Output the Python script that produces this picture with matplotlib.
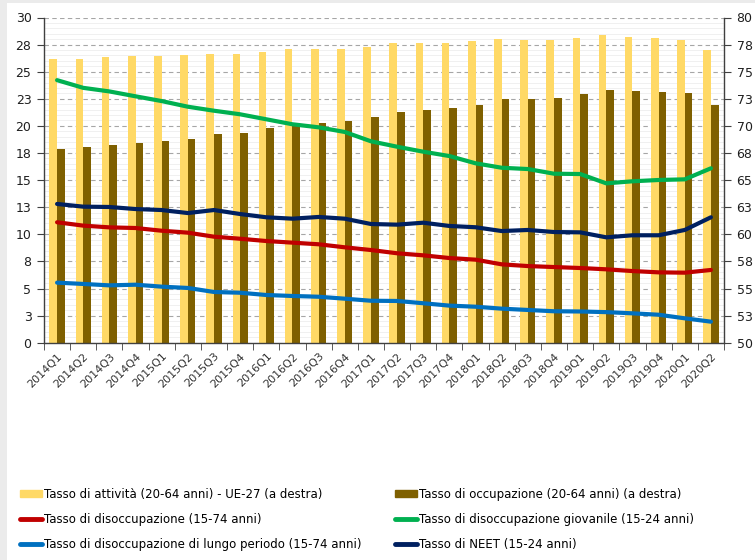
import numpy as np
import matplotlib
matplotlib.use("Agg")
import matplotlib.pyplot as plt
import matplotlib.ticker as mticker
from matplotlib.patches import Rectangle, Patch
from matplotlib.lines import Line2D

QUARTERS = [f"{y}Q{q}" for y in range(2014, 2021) for q in range(1, 5)][:26]

# right axis (bars)
ATTIVITA = [76.17, 76.17, 76.38, 76.48, 76.48, 76.54, 76.66, 76.66, 76.85, 77.09,
            77.09, 77.09, 77.31, 77.62, 77.62, 77.62, 77.80, 77.99, 77.92, 77.92,
            78.08, 78.36, 78.17, 78.08, 77.92, 77.00]
OCCUPAZIONE = [67.90, 68.08, 68.27, 68.45, 68.63, 68.82, 69.28, 69.37, 69.78, 69.99,
               70.24, 70.42, 70.79, 71.28, 71.46, 71.65, 71.93, 72.45, 72.51, 72.60,
               72.91, 73.28, 73.19, 73.12, 73.00, 71.93]

# left axis (lines)
DISOCC = [11.11, 10.80, 10.64, 10.58, 10.33, 10.15, 9.78, 9.59, 9.38, 9.23,
          9.08, 8.80, 8.55, 8.25, 8.06, 7.81, 7.66, 7.23, 7.07, 6.98,
          6.89, 6.77, 6.61, 6.49, 6.46, 6.71]
GIOVANILE = [24.22, 23.51, 23.18, 22.73, 22.29, 21.77, 21.40, 21.07, 20.61, 20.15,
             19.87, 19.44, 18.58, 18.08, 17.62, 17.22, 16.55, 16.14, 16.02, 15.59,
             15.56, 14.70, 14.89, 15.01, 15.07, 16.09]
LUNGO = [5.54, 5.42, 5.29, 5.35, 5.17, 5.05, 4.68, 4.61, 4.40, 4.31,
         4.24, 4.06, 3.87, 3.85, 3.64, 3.42, 3.32, 3.14, 3.02, 2.90,
         2.88, 2.82, 2.71, 2.58, 2.25, 1.94]
NEET = [12.80, 12.55, 12.52, 12.33, 12.24, 11.96, 12.24, 11.87, 11.57, 11.44,
        11.60, 11.44, 10.95, 10.89, 11.07, 10.77, 10.65, 10.30, 10.40, 10.21,
        10.18, 9.72, 9.91, 9.91, 10.40, 11.57]

LABELS = [
    "Tasso di attività (20-64 anni) - UE-27 (a destra)",
    "Tasso di occupazione (20-64 anni) (a destra)",
    "Tasso di disoccupazione (15-74 anni)",
    "Tasso di disoccupazione giovanile (15-24 anni)",
    "Tasso di disoccupazione di lungo periodo (15-74 anni)",
    "Tasso di NEET (15-24 anni)",
]

YELLOW, BROWN = "#FFD966", "#7F6000"
RED, GREEN, BLUE, NAVY = "#C00000", "#00B050", "#0070C0", "#002060"
FONT = ["Liberation Sans Narrow", "DejaVu Sans"]
plt.rcParams["font.family"] = FONT

W, H = 755, 560
fig = plt.figure(figsize=(W / 100, H / 100), dpi=100)
fig.patch.set_facecolor("#EBEBEB")
fig.add_artist(Rectangle((7 / W, 0), 1, 1 - 3 / H, transform=fig.transFigure,
                         facecolor="white", edgecolor="none", zorder=-5))

left, right, top, bottom = 44 / W, 724 / W, 17.5 / H, 342.7 / H
ax = fig.add_axes([left, 1 - bottom, right - left, bottom - top])
ax2 = ax.twinx()
ax.set_zorder(ax2.get_zorder() + 1)
ax.patch.set_visible(False)

x = np.arange(len(QUARTERS))
bw = 0.29
ax2.bar(x - bw / 2, ATTIVITA, width=bw, color=YELLOW, zorder=2)
ax2.bar(x + bw / 2, OCCUPAZIONE, width=bw, color=BROWN, zorder=2)
ax2.set_ylim(50, 80)

for vals, c in [(GIOVANILE, GREEN), (NEET, NAVY), (DISOCC, RED), (LUNGO, BLUE)]:
    ax.plot(x, vals, color=c, lw=3.0, solid_capstyle="round", solid_joinstyle="round")
ax.set_ylim(0, 30)
ax.set_xlim(-0.5, len(QUARTERS) - 0.5)

fmt = mticker.FuncFormatter(lambda v, p: f"{int(np.floor(v + 0.5 + 1e-9))}")
ax.yaxis.set_major_locator(mticker.MultipleLocator(2.5))
ax.yaxis.set_major_formatter(fmt)
ax2.yaxis.set_major_locator(mticker.MultipleLocator(2.5))
ax2.yaxis.set_major_formatter(fmt)
ax2.yaxis.set_minor_locator(mticker.MultipleLocator(0.5))

# gridlines behind the bars
ax2.set_axisbelow(True)
ax2.grid(axis="y", which="major", color="#A6A6A6", linestyle=(0, (4, 3)), lw=0.8)
ax2.grid(axis="y", which="minor", color="#EEEEEE", lw=0.6)
ax2.tick_params(axis="y", which="minor", length=0)

ax.set_xticks(x)
ax.set_xticklabels(QUARTERS, rotation=45, ha="right", va="top",
                   rotation_mode="anchor", fontsize=8, color="#333333")
ax.set_xticks(np.arange(-0.5, len(QUARTERS)), minor=True)
ax.tick_params(axis="x", which="major", length=0, pad=6)
ax.tick_params(axis="x", which="minor", length=5, color="#404040", direction="out")

for a in (ax, ax2):
    a.tick_params(axis="y", which="major", length=5, color="#404040",
                  labelsize=9, labelcolor="#1F1F1F", pad=4)
    for s in a.spines.values():
        s.set_visible(False)
for s in ("left", "right", "bottom"):
    ax.spines[s].set_visible(True)
    ax.spines[s].set_color("#404040")
    ax.spines[s].set_linewidth(1.0)

handles1 = [Patch(color=YELLOW), Line2D([], [], color=RED, lw=3.5, solid_capstyle="round"),
            Line2D([], [], color=BLUE, lw=3.5, solid_capstyle="round")]
handles2 = [Patch(color=BROWN), Line2D([], [], color=GREEN, lw=3.5, solid_capstyle="round"),
            Line2D([], [], color=NAVY, lw=3.5, solid_capstyle="round")]
common = dict(loc="upper left", frameon=False, fontsize=8.5, handlelength=1.9,
              handleheight=0.5, handletextpad=0.15, labelspacing=1.02, borderpad=0,
              borderaxespad=0)
fig.legend(handles1, [LABELS[0], LABELS[2], LABELS[4]],
           bbox_to_anchor=(20 / W, 1 - 488 / H), **common)
fig.legend(handles2, [LABELS[1], LABELS[3], LABELS[5]],
           bbox_to_anchor=(395 / W, 1 - 488 / H), **common)

fig.savefig("out.png", dpi=100, facecolor=fig.get_facecolor())
